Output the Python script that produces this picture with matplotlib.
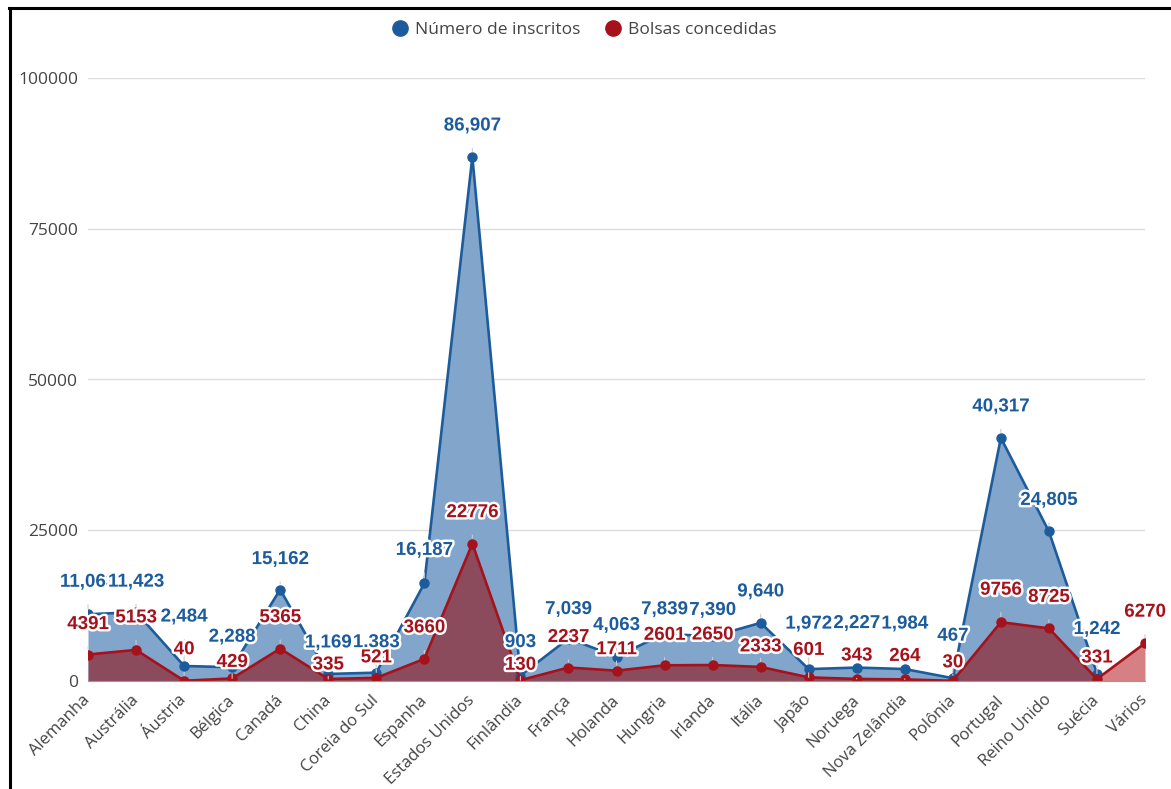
import numpy as np
import matplotlib
matplotlib.use("Agg")
import matplotlib.pyplot as plt
import matplotlib.patheffects as pe
from matplotlib.lines import Line2D

# Data
paises = ["Alemanha", "Austrália", "Áustria", "Bélgica", "Canadá", "China",
          "Coreia do Sul", "Espanha", "Estados Unidos", "Finlândia", "França",
          "Holanda", "Hungria", "Irlanda", "Itália", "Japão", "Noruega",
          "Nova Zelândia", "Polônia", "Portugal", "Reino Unido", "Suécia", "Vários"]
inscritos = [11063, 11423, 2484, 2288, 15162, 1169, 1383, 16187, 86907, 903,
             7039, 4063, 7839, 7390, 9640, 1972, 2227, 1984, 467, 40317,
             24805, 1242, np.nan]
bolsas = [4391, 5153, 40, 429, 5365, 335, 521, 3660, 22776, 130, 2237, 1711,
          2601, 2650, 2333, 601, 343, 264, 30, 9756, 8725, 331, 6270]
y_ticks = [0, 25000, 50000, 75000, 100000]

# Label offsets above each point (pixels)
off_insc = [32, 30, 49, 30, 30, 31, 30, 33, 31, 33, 29, 31, 24, 26, 31, 45,
            44, 45, 42, 31, 31, 44, 0]
off_bolsas = [30, 32, 31, 16, 31, 14, 20, 31, 31, 15, 30, 21, 30, 30, 20, 27,
              23, 23, 18, 32, 31, 21, 31]

BLUE = "#1d5c9c"
BLUE_FILL = "#82a6cb"
RED = "#a5121b"
MAROON = "#8c4b5d"
LIGHT_RED = "#d78083"
TXT = "#444444"

W, H = 1171, 789
fig = plt.figure(figsize=(W / 100, H / 100), dpi=100)
fig.patch.set_facecolor("white")
ax = fig.add_axes([88 / W, 1 - 681 / H, (1145 - 88) / W, (681 - 78) / H])

x = np.arange(len(paises))
insc = np.array(inscritos, dtype=float)
bol = np.array(bolsas, dtype=float)
n_ins = int(np.sum(~np.isnan(insc)))

# Areas
ax.fill_between(x[:n_ins], 0, insc[:n_ins], color=BLUE_FILL, lw=0, zorder=1)
ax.fill_between(x[:n_ins], 0, bol[:n_ins], color=MAROON, lw=0, zorder=2)
ax.fill_between(x[n_ins - 1:], 0, bol[n_ins - 1:], color=LIGHT_RED, lw=0, zorder=2)

# Lines and points
ax.plot(x[:n_ins], insc[:n_ins], color=BLUE, lw=1.9, marker="o", ms=6.5,
        zorder=4, solid_joinstyle="round")
ax.plot(x, bol, color=RED, lw=1.9, marker="o", ms=6.5, zorder=5,
        solid_joinstyle="round")

# Value labels
halo = [pe.withStroke(linewidth=3.5, foreground="white")]
for i in range(n_ins):
    v = inscritos[i]
    ax.annotate(f"{int(v):,}", (x[i], v), xytext=(0, off_insc[i]),
                textcoords="offset pixels", ha="center", va="center",
                fontsize=13.5, fontweight="bold", color=BLUE,
                family="Liberation Sans", path_effects=halo, zorder=7,
                arrowprops=dict(arrowstyle="-", color="#cccccc", lw=0.8,
                                shrinkA=8, shrinkB=4))
for i in range(len(paises)):
    v = bolsas[i]
    ax.annotate(f"{int(v)}", (x[i], v), xytext=(0, off_bolsas[i]),
                textcoords="offset pixels", ha="center", va="center",
                fontsize=13.5, fontweight="bold", color=RED,
                family="Liberation Sans", path_effects=halo, zorder=8,
                arrowprops=dict(arrowstyle="-", color="#cccccc", lw=0.8,
                                shrinkA=8, shrinkB=4))

# Axes styling
ax.set_xlim(0, len(paises) - 1)
ax.set_ylim(0, 100000)
ax.set_yticks(y_ticks)
ax.set_yticklabels([str(t) for t in y_ticks], fontsize=12.5, color=TXT,
                   family="Open Sans")
ax.set_xticks(x)
ax.set_xticklabels(paises, rotation=45, ha="right", rotation_mode="anchor",
                   va="center", fontsize=12, color=TXT, family="Open Sans")
ax.tick_params(axis="both", length=0)
ax.tick_params(axis="y", pad=7)
ax.tick_params(axis="x", pad=12)
ax.grid(axis="y", color="#dddddd", lw=1, zorder=0)
ax.set_axisbelow(True)
for s in ["top", "right", "left"]:
    ax.spines[s].set_visible(False)
ax.spines["bottom"].set_color("#999999")
ax.spines["bottom"].set_zorder(6)
ax.set_facecolor("none")

# Legend
handles = [Line2D([], [], ls="none", marker="o", ms=11, color=BLUE),
           Line2D([], [], ls="none", marker="o", ms=11, color=RED)]
fig.legend(handles, ["Número de inscritos", "Bolsas concedidas"],
           loc="center", bbox_to_anchor=(584 / W, 1 - 30 / H), ncol=2,
           frameon=False, prop=dict(family="Open Sans", size=12.5),
           handletextpad=0.35, columnspacing=1.4, handlelength=1.0,
           labelcolor=TXT)

# Frame around the chart
fig.add_artist(Line2D([10 / W, 10 / W], [0, 1 - 8 / H], transform=fig.transFigure,
                      color="black", lw=2.2))
fig.add_artist(Line2D([9 / W, 1], [1 - 8 / H, 1 - 8 / H], transform=fig.transFigure,
                      color="black", lw=2.2))

# Caption above the frame
fig.text(20 / W, 1 + 12 / H, "Gráfico 3 – Número de inscritos e bolsas concedidas "
         "para graduação sanduíche", ha="left", va="baseline",
         family="Liberation Serif", fontsize=19, color="black")

fig.savefig("out.png", dpi=100, facecolor="white")
